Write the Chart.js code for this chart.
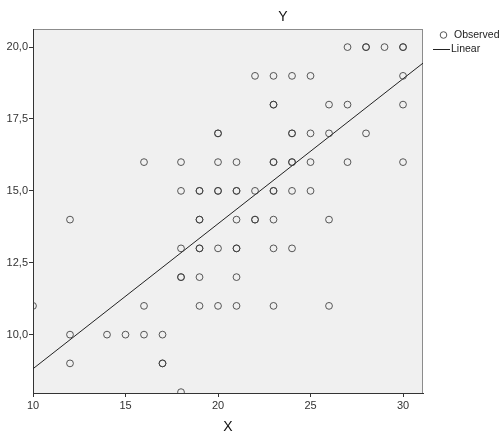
<!DOCTYPE html>
<html>
<head>
<meta charset="utf-8">
<script src="https://cdn.jsdelivr.net/npm/chart.js@4.4.1/dist/chart.umd.min.js"></script>
<style>
  html, body { margin: 0; padding: 0; background: #fff; }
</style>
</head>
<body>
<canvas id="chart" width="501" height="438"></canvas>
<script>
// Observed points (repeated pairs = overlapping cases, drawn darker)
const obsX = [
  27, 28, 28, 29, 30, 30,
  22, 23, 24, 25, 30,
  23, 23, 26, 27, 30,
  20, 20, 24, 24, 25, 26, 28,
  16, 18, 20, 21, 23, 23, 24, 24, 25, 27, 30,
  18, 19, 19, 20, 20, 21, 21, 22, 23, 23, 24, 25,
  12, 19, 19, 21, 22, 22, 23, 26,
  18, 19, 19, 20, 21, 21, 23, 24,
  18, 18, 19, 21,
  10, 16, 19, 20, 21, 23, 26,
  12, 14, 15, 16, 17,
  12, 17, 17,
  18
];
const obsY = [
  20, 20, 20, 20, 20, 20,
  19, 19, 19, 19, 19,
  18, 18, 18, 18, 18,
  17, 17, 17, 17, 17, 17, 17,
  16, 16, 16, 16, 16, 16, 16, 16, 16, 16, 16,
  15, 15, 15, 15, 15, 15, 15, 15, 15, 15, 15, 15,
  14, 14, 14, 14, 14, 14, 14, 14,
  13, 13, 13, 13, 13, 13, 13, 13,
  12, 12, 12, 12,
  11, 11, 11, 11, 11, 11, 11,
  10, 10, 10, 10, 10,
  9, 9, 9,
  8
];

// linear fit
const fitIntercept = 3.77;
const fitSlope = 0.5043;

const xTicks = [10, 15, 20, 25, 30];
const yTicks = [10, 12.5, 15, 17.5, 20];
const xMin = 10, xMax = 31.08;
const yMin = 7.97, yMax = 20.63;

const observed = obsX.map((x, i) => ({ x: x, y: obsY[i] }));
const fitLine = [xMin, xMax].map(x => ({ x: x, y: fitIntercept + fitSlope * x }));

const FONT = 'Liberation Sans, Arial, sans-serif';

// plot background and frame
const plotFrame = {
  id: 'plotFrame',
  beforeDraw(chart) {
    const a = chart.chartArea;
    const ctx = chart.ctx;
    ctx.save();
    ctx.fillStyle = '#f0f0f0';
    ctx.fillRect(a.left, a.top, a.right - a.left, a.bottom - a.top);
    ctx.strokeStyle = '#8c8c8c';
    ctx.lineWidth = 1;
    ctx.strokeRect(a.left + 0.5, a.top + 0.5, a.right - a.left - 1, a.bottom - a.top);
    ctx.restore();
  }
};

// title and legend like the SPSS output
const extras = {
  id: 'extras',
  afterDraw(chart) {
    const ctx = chart.ctx;
    ctx.save();
    ctx.fillStyle = '#111';
    ctx.font = '14px ' + FONT;
    ctx.textAlign = 'center';
    ctx.textBaseline = 'middle';
    ctx.fillText('Y', 283, 17);

    // legend
    ctx.textAlign = 'left';
    ctx.font = '10.5px ' + FONT;
    ctx.fillStyle = '#222';
    ctx.strokeStyle = '#555';
    ctx.lineWidth = 1;
    ctx.beginPath();
    ctx.arc(443.5, 35, 3.3, 0, Math.PI * 2);
    ctx.stroke();
    ctx.fillText('Observed', 454, 35.5);
    ctx.strokeStyle = '#222';
    ctx.beginPath();
    ctx.moveTo(433, 49.5);
    ctx.lineTo(450, 49.5);
    ctx.stroke();
    ctx.fillText('Linear', 451, 49);
    ctx.restore();
  }
};

new Chart(document.getElementById('chart'), {
  type: 'scatter',
  data: {
    datasets: [
      {
        label: 'Observed',
        data: observed,
        pointRadius: 3.4,
        pointHoverRadius: 3.4,
        pointBorderWidth: 1,
        pointBorderColor: 'rgba(60, 60, 60, 0.85)',
        pointBackgroundColor: 'rgba(0,0,0,0)',
        showLine: false
      },
      {
        label: 'Linear',
        type: 'line',
        data: fitLine,
        borderColor: '#222',
        borderWidth: 1,
        pointRadius: 0,
        fill: false
      }
    ]
  },
  options: {
    responsive: false,
    animation: false,
    layout: { padding: { left: 0, right: 78, top: 29, bottom: 0 } },
    plugins: {
      legend: { display: false },
      title: { display: false },
      tooltip: { enabled: false }
    },
    scales: {
      x: {
        type: 'linear',
        position: 'bottom',
        min: xMin,
        max: xMax,
        afterBuildTicks: s => { s.ticks = xTicks.map(v => ({ value: v })); },
        afterFit: s => { s.height = 45; },
        grid: { drawOnChartArea: false, tickLength: 4, color: '#333' },
        border: { color: '#333', width: 1 },
        ticks: {
          autoSkip: false, maxRotation: 0, padding: 2,
          color: '#333', font: { family: FONT, size: 11 }
        },
        title: {
          display: true, text: 'X', color: '#111',
          font: { family: FONT, size: 14 },
          padding: { top: 0, bottom: 2 }
        }
      },
      y: {
        type: 'linear',
        min: yMin,
        max: yMax,
        afterBuildTicks: s => { s.ticks = yTicks.map(v => ({ value: v })); },
        afterFit: s => { s.width = 33; },
        grid: { drawOnChartArea: false, tickLength: 4, color: '#333' },
        border: { color: '#333', width: 1 },
        ticks: {
          autoSkip: false, padding: 1,
          color: '#333', font: { family: FONT, size: 11 },
          callback: v => v.toFixed(1).replace('.', ',')
        }
      }
    }
  },
  plugins: [plotFrame, extras]
});
</script>
</body>
</html>
